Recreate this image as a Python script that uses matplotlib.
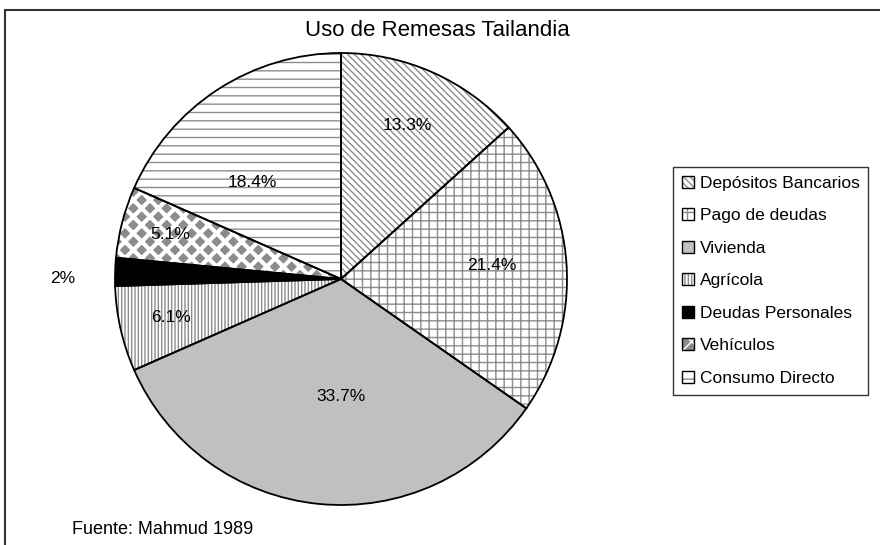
import matplotlib
matplotlib.use("Agg")
import matplotlib.pyplot as plt
from matplotlib.patches import Patch, Rectangle
import numpy as np

plt.rcParams['font.family'] = ['Liberation Sans', 'DejaVu Sans']
plt.rcParams['hatch.linewidth'] = 1.0

title = "Uso de Remesas Tailandia"
categories = ["Depósitos Bancarios", "Pago de deudas", "Vivienda", "Agrícola",
              "Deudas Personales", "Vehículos", "Consumo Directo"]
values = [13.3, 21.4, 33.7, 6.1, 2.0, 5.1, 18.4]
value_labels = ["13.3%", "21.4%", "33.7%", "6.1%", "2%", "5.1%", "18.4%"]
source = "Fuente: Mahmud 1989"

# label placement (fraction of radius, angular offset from wedge middle, deg)
label_dist = [0.74, 0.67, 0.52, 0.77, 1.23, 0.78, 0.58]
label_dang = [0.5, 1.7, 5.6, 0.0, 1.7, 0.0, 9.7]

HG = '#8c8c8c'
facecolors = ['white', 'white', '#c0c0c0', 'white', 'black', HG, 'white']
hatchcolors = [HG, HG, '#c0c0c0', HG, 'black', 'white', HG]
hatches = ['\\\\\\\\\\', '++', '', '|||||', '', 'xx', '--']

W, H = 880, 545
fig = plt.figure(figsize=(W / 100, H / 100), dpi=100)

cx, cy, r = 341, 279, 226
ax = fig.add_axes([(cx - r) / W, (H - cy - r) / H, 2 * r / W, 2 * r / H])

# hatched fill layer
wedges, texts = ax.pie(values, startangle=90, counterclock=False,
                       colors=facecolors,
                       wedgeprops=dict(linewidth=0),
                       labels=value_labels, labeldistance=0.74,
                       textprops=dict(fontsize=12.5, ha='center', va='center'))
for w, h, hc in zip(wedges, hatches, hatchcolors):
    w.set_edgecolor(hc)
    w.set_linewidth(0)
    w.set_hatch(h)
wedges[5]._hatch_linewidth = 3.0

# outline layer
ax.pie(values, startangle=90, counterclock=False,
       wedgeprops=dict(facecolor='none', edgecolor='black', linewidth=1.3))

for t, w, d, da in zip(texts, wedges, label_dist, label_dang):
    t.set_ha('center')
    t.set_zorder(5)
    ang = np.deg2rad((w.theta1 + w.theta2) / 2 + da)
    t.set_position((d * np.cos(ang), d * np.sin(ang)))
ax.set_xlim(-1, 1)
ax.set_ylim(-1, 1)
ax.set_aspect('equal')
ax.axis('off')

fig.text(305 / W, 1 - 31 / H, title, ha='left', va='center', fontsize=16)
fig.text(72 / W, 1 - 530 / H, source, ha='left', va='center', fontsize=13)

# outer frame
fig.patches.append(Rectangle((5 / W, -0.1), 1.2, (1 - 10 / H) + 0.1,
                             transform=fig.transFigure, fill=False,
                             edgecolor='#333333', linewidth=1.5))

handles = []
for fc, h, hc in zip(facecolors, hatches, hatchcolors):
    p1 = Patch(facecolor=fc, edgecolor=hc, hatch=h, linewidth=0)
    p2 = Patch(facecolor='none', edgecolor='black', linewidth=1.0)
    handles.append((p1, p2))
leg = fig.legend(handles, categories, loc='upper left',
                 bbox_to_anchor=(673 / W, 1 - 167 / H),
                 fontsize=12.5, frameon=True, fancybox=False,
                 edgecolor='black', handlelength=0.7, handleheight=0.7,
                 handletextpad=0.35, labelspacing=1.0, borderpad=0.5,
                 borderaxespad=0)
leg.get_frame().set_linewidth(1.0)

fig.savefig("out.png", dpi=100)
